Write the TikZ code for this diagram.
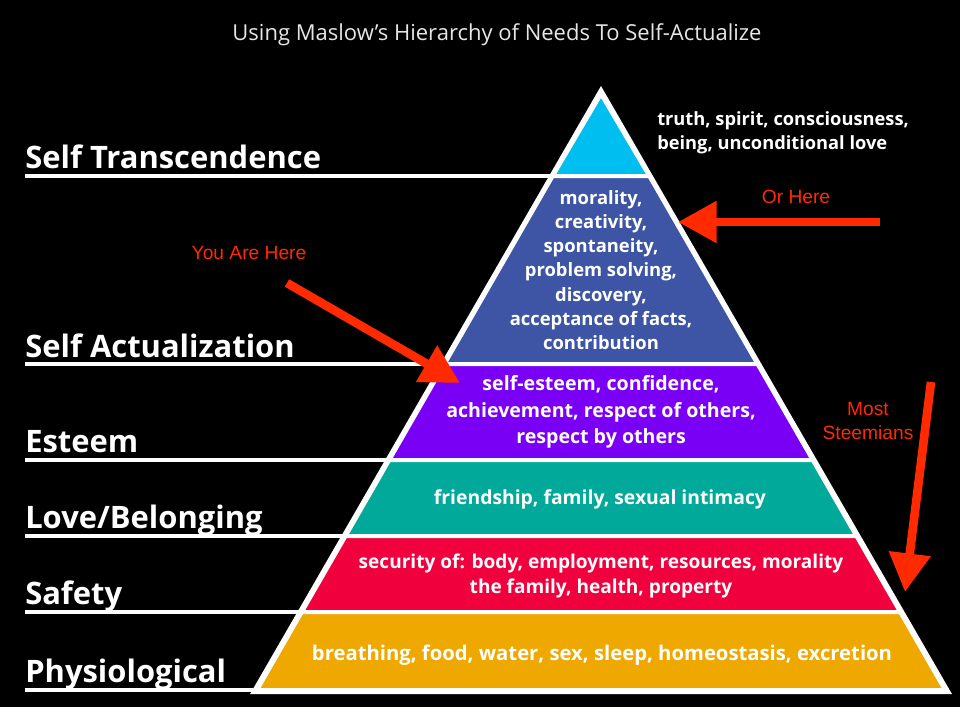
\documentclass[tikz,border=0pt]{standalone}
\usepackage{fontspec}
\setmainfont{Open Sans}
\newfontfamily\redfont{Liberation Sans}
\usetikzlibrary{arrows.meta}
\definecolor{cTop}{HTML}{00BFF0}
\definecolor{cAct}{HTML}{3D55A4}
\definecolor{cEst}{HTML}{7A00F5}
\definecolor{cLove}{HTML}{00A99A}
\definecolor{cSafe}{HTML}{F0003C}
\definecolor{cPhys}{HTML}{EFA800}
\definecolor{cArrow}{HTML}{FF2A00}
\definecolor{cTitle}{HTML}{E6E6E6}
\tikzset{
  layer/.style={draw=white,line width=3pt,line join=miter},
  leftline/.style={draw=white,line width=2.4pt},
  lbl/.style={anchor=base west,inner sep=0pt,text=white,font=\bfseries\fontsize{23.2}{26}\selectfont},
  inner/.style={align=center,inner sep=0pt,text=white,font=\bfseries\fontsize{13.8}{18.2}\selectfont},
  redlbl/.style={align=center,inner sep=0pt,text=cArrow,font=\redfont\fontsize{14.4}{17}\selectfont},
  redarrow/.style={draw=cArrow,line width=6.5pt,-{Triangle[length=29pt,width=30pt]}}
}
\begin{document}
\begin{tikzpicture}[x=0.75pt,y=-0.75pt]
\useasboundingbox (0,0) rectangle (960,707);
\fill[black] (0,0) rectangle (960,707);
% title
\node[inner sep=0pt,text=cTitle,font=\fontsize{16.5}{19}\selectfont] (title) at (497,35) {Using Maslow\char"0027 s Hierarchy of Needs To Self-Actualize};
% left lines
\draw[leftline] (25,176) -- (552.7,176);
\draw[leftline] (25,364) -- (444.5,364);
\draw[leftline] (25,460) -- (389.3,460);
\draw[leftline] (25,536) -- (345.6,536);
\draw[leftline] (25,612) -- (301.8,612);
\draw[leftline] (25,690) -- (257,690);
% outer triangle
\draw[white,line width=6pt,line join=miter] (601,94) -- (945,690) -- (257,690) -- cycle;
% layers
\filldraw[layer,fill=cTop] (601,94) -- (649.3,176) -- (552.7,176) -- cycle;
\filldraw[layer,fill=cAct] (552.7,176) -- (649.3,176) -- (757.5,364) -- (444.5,364) -- cycle;
\filldraw[layer,fill=cEst] (444.5,364) -- (757.5,364) -- (812.7,460) -- (389.3,460) -- cycle;
\filldraw[layer,fill=cLove] (389.3,460) -- (812.7,460) -- (856.4,536) -- (345.6,536) -- cycle;
\filldraw[layer,fill=cSafe] (345.6,536) -- (856.4,536) -- (900.2,612) -- (301.8,612) -- cycle;
\filldraw[layer,fill=cPhys] (301.8,612) -- (900.2,612) -- (945,690) -- (257,690) -- cycle;
% left labels
\node[lbl] (lTrans) at (25,168) {Self Transcendence};
\node[lbl] (lAct) at (25,357) {Self Actualization};
\node[lbl] (lEst) at (25,452) {Esteem};
\node[lbl] (lLove) at (25,528) {Love/Belonging};
\node[lbl] (lSafe) at (25,604) {Safety};
\node[lbl] (lPhys) at (25,682) {Physiological};
% inner texts
\node[inner,align=left,anchor=west,font=\bfseries\fontsize{13.7}{18}\selectfont] (tTrans) at (657,133) {truth, spirit, consciousness,\\being, unconditional love};
\node[inner] (tAct) at (601,270) {morality,\\creativity,\\spontaneity,\\problem solving,\\discovery,\\acceptance of facts,\\contribution};
\node[inner,font=\bfseries\fontsize{14.7}{19.8}\selectfont] (tEst) at (601,412) {self-esteem, confidence,\\achievement, respect of others,\\respect by others};
\node[inner,font=\bfseries\fontsize{14.5}{18}\selectfont] (tLove) at (600,499) {friendship, family, sexual intimacy};
\node[inner,font=\bfseries\fontsize{14.3}{18.8}\selectfont] (tSafe) at (601,576) {security of: body, employment, resources, morality\\the family, health, property};
\node[inner,font=\bfseries\fontsize{15.2}{18}\selectfont] (tPhys) at (602,655) {breathing, food, water, sex, sleep, homeostasis, excretion};
% red labels
\node[redlbl] (rYou) at (249,253) {You Are Here};
\node[redlbl] (rOr) at (796,197) {Or Here};
\node[redlbl,font=\redfont\fontsize{14.4}{17.3}\selectfont] (rMost) at (868,421) {Most\\Steemians};
% arrows
\coordinate (aYouS) at (287,283);
\coordinate (aYouE) at (460,383);
\coordinate (aOrS) at (880,222);
\coordinate (aOrE) at (678,222);
\coordinate (aMostS) at (931,382);
\coordinate (aMostE) at (905,592);
\draw[redarrow] (aYouS) -- (aYouE);
\draw[redarrow] (aOrS) -- (aOrE);
\draw[redarrow] (aMostS) -- (aMostE);
\end{tikzpicture}
\end{document}
